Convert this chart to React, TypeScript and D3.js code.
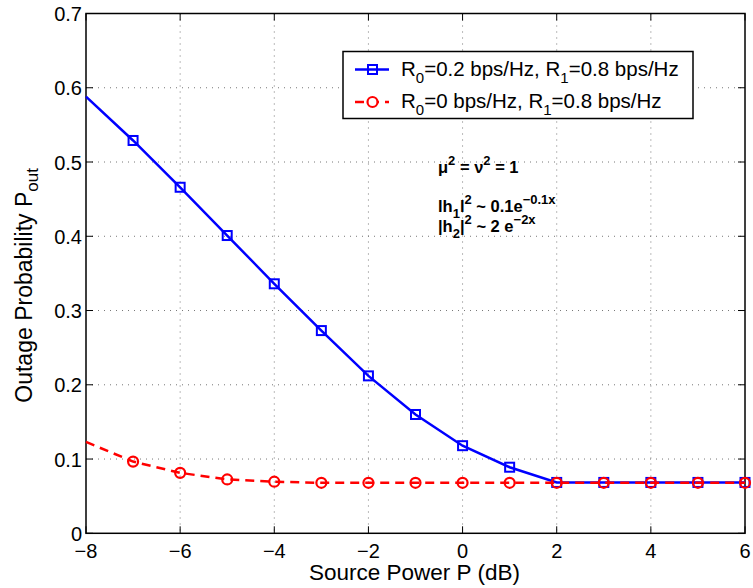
import React from "react";
import * as d3 from "d3";

const xValues = [-8, -7, -6, -5, -4, -3, -2, -1, 0, 1, 2, 3, 4, 5, 6];
const blueValues = [0.588, 0.529, 0.466, 0.401, 0.336, 0.273, 0.212, 0.16, 0.118, 0.089, 0.0685, 0.0685, 0.0685, 0.0685, 0.0685];
const redValues = [0.123, 0.0966, 0.0814, 0.0725, 0.0695, 0.068, 0.068, 0.068, 0.068, 0.068, 0.068, 0.068, 0.068, 0.068, 0.068];
const xTicks = [-8, -6, -4, -2, 0, 2, 4, 6];
const yTicks = [0, 0.1, 0.2, 0.3, 0.4, 0.5, 0.6, 0.7];

const W = 753, H = 588;
const L = 86, R = 745, T = 13.5, B = 533.3;
const FONT = "'Liberation Sans', Arial, Helvetica, sans-serif";

export default function App() {
  const x = d3.scaleLinear().domain([-8, 6]).range([L, R]);
  const y = d3.scaleLinear().domain([0, 0.7]).range([B, T]);
  const line = d3.line<number>().x((_, i) => x(xValues[i])).y((d) => y(d));
  const tl = 7;
  const fmtX = (v: number) => (v < 0 ? "\u2212" + Math.abs(v) : String(v));
  return (
    <svg width={W} height={H} style={{ position: "absolute", left: 0, top: 0, background: "#fff" }} fontFamily={FONT}>
      <rect x={0} y={0} width={W} height={H} fill="#fff" />
      {/* grid */}
      {xTicks.slice(1, -1).map((t) => (
        <line key={"gx" + t} x1={x(t)} x2={x(t)} y1={T} y2={B} stroke="#777" strokeWidth={1} strokeDasharray="1,5" />
      ))}
      {yTicks.slice(1, -1).map((t) => (
        <line key={"gy" + t} x1={L} x2={R} y1={y(t)} y2={y(t)} stroke="#777" strokeWidth={1} strokeDasharray="1,5" />
      ))}
      {/* ticks */}
      {xTicks.map((t) => (
        <g key={"tx" + t}>
          <line x1={x(t)} x2={x(t)} y1={B} y2={B - tl} stroke="#000" />
          <line x1={x(t)} x2={x(t)} y1={T} y2={T + tl} stroke="#000" />
          <text x={x(t)} y={557.5} fontSize={20} textAnchor="middle">{fmtX(t)}</text>
        </g>
      ))}
      {yTicks.map((t) => (
        <g key={"ty" + t}>
          <line x1={L} x2={L + tl} y1={y(t)} y2={y(t)} stroke="#000" />
          <line x1={R} x2={R - tl} y1={y(t)} y2={y(t)} stroke="#000" />
          <text x={82} y={y(t) + 7.5} fontSize={20} textAnchor="end">{String(t)}</text>
        </g>
      ))}
      {/* box */}
      <rect x={L} y={T} width={R - L} height={B - T} fill="none" stroke="#000" strokeWidth={1.5} />
      {/* blue series */}
      <path d={line(blueValues) || ""} fill="none" stroke="#0000ff" strokeWidth={2.5} />
      {blueValues.map((v, i) =>
        xValues[i] > -8 ? (
          <rect key={"b" + i} x={x(xValues[i]) - 4.5} y={y(v) - 4.5} width={9} height={9} fill="none" stroke="#0000ff" strokeWidth={2} />
        ) : null
      )}
      {/* red series */}
      <path d={line(redValues) || ""} fill="none" stroke="#ff0000" strokeWidth={2.5} strokeDasharray="9,6" />
      {redValues.map((v, i) =>
        xValues[i] > -8 ? (
          <circle key={"r" + i} cx={x(xValues[i])} cy={y(v)} r={5} fill="none" stroke="#ff0000" strokeWidth={2.2} />
        ) : null
      )}
      {/* legend */}
      <rect x={343} y={51.5} width={350} height={67} fill="#fff" stroke="#000" strokeWidth={1.5} />
      <line x1={355} x2={389} y1={69.5} y2={69.5} stroke="#0000ff" strokeWidth={2.5} />
      <rect x={368} y={65} width={9} height={9} fill="none" stroke="#0000ff" strokeWidth={2} />
      <line x1={355} x2={389} y1={102} y2={102} stroke="#ff0000" strokeWidth={2.5} strokeDasharray="9,6" />
      <circle cx={372.5} cy={102} r={5} fill="#fff" stroke="#ff0000" strokeWidth={2.2} />
      <text x={401} y={76} fontSize={20.5}>
        R<tspan fontSize={15} dy={7}>0</tspan><tspan dy={-7}>=0.2 bps/Hz, R</tspan><tspan fontSize={15} dy={7}>1</tspan><tspan dy={-7}>=0.8 bps/Hz</tspan>
      </text>
      <text x={401} y={108} fontSize={20.5}>
        R<tspan fontSize={15} dy={7}>0</tspan><tspan dy={-7}>=0 bps/Hz, R</tspan><tspan fontSize={15} dy={7}>1</tspan><tspan dy={-7}>=0.8 bps/Hz</tspan>
      </text>
      {/* annotations */}
      <g fontWeight="bold" fontSize={16.5}>
        <text x={438} y={173}>
          μ<tspan fontSize={13} dy={-8}>2</tspan><tspan dy={8}> = ν</tspan><tspan fontSize={13} dy={-8}>2</tspan><tspan dy={8}> = 1</tspan>
        </text>
        <text x={438} y={211.5}>
          lh<tspan fontSize={13} dy={6}>1</tspan><tspan dy={-6}>l</tspan><tspan fontSize={13} dy={-8}>2</tspan><tspan dy={8}> ~ 0.1e</tspan><tspan fontSize={13} dy={-8}>−0.1x</tspan>
        </text>
        <text x={438} y={231.5}>
          |h<tspan fontSize={13} dy={6}>2</tspan><tspan dy={-6}>|</tspan><tspan fontSize={13} dy={-8}>2</tspan><tspan dy={8}> ~ 2 e</tspan><tspan fontSize={13} dy={-8}>−2x</tspan>
        </text>
      </g>
      {/* axis labels */}
      <text x={(L + R) / 2 - 1} y={579.5} fontSize={22.5} textAnchor="middle">Source Power P (dB)</text>
      <text transform={`translate(32,${(T + B) / 2 + 12}) rotate(-90)`} fontSize={23} textAnchor="middle">
        Outage Probability P<tspan fontSize={17} dy={6}>out</tspan>
      </text>
    </svg>
  );
}
